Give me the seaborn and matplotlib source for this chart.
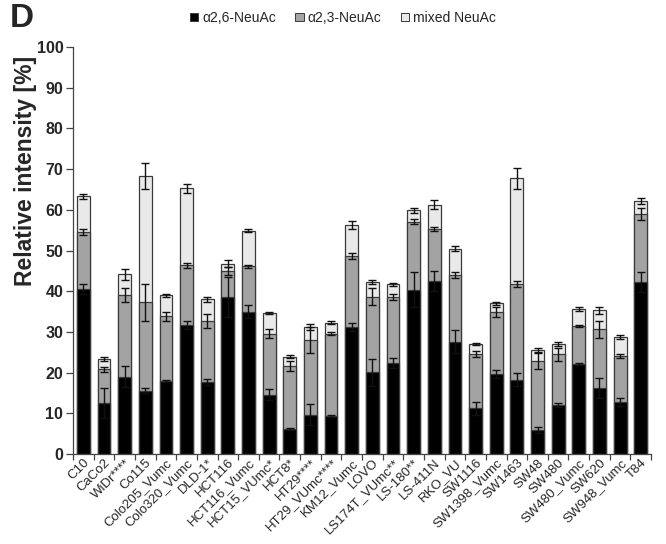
import numpy as np
import pandas as pd
import seaborn as sns
import matplotlib
matplotlib.use("Agg")
import matplotlib.pyplot as plt
from matplotlib.patches import Patch

cell_lines = ["C10", "CaCo2", "WiDr****", "Co115", "Colo205_Vumc", "Colo320_Vumc",
              "DLD-1*", "HCT116", "HCT116_Vumc", "HCT15_VUmc*", "HCT8*", "HT29****",
              "HT29_VUmc****", "KM12_Vumc", "LOVO", "LS174T_VUmc**", "LS-180**",
              "LS-411N", "RKO_VU", "SW1116", "SW1398_Vumc", "SW1463", "SW48",
              "SW480", "SW480_Vumc", "SW620", "SW948_Vumc", "T84"]

# segment heights (relative intensity, %)
a26 = [40.5, 12.5, 19.0, 15.6, 17.9, 31.6, 17.7, 38.5, 35.0, 14.6, 6.2, 9.7,
       9.3, 31.2, 20.1, 22.4, 40.3, 42.5, 27.6, 11.2, 19.7, 18.3, 5.9, 12.0,
       22.1, 16.3, 12.8, 42.3]
a23 = [14.1, 8.3, 20.0, 21.7, 15.9, 14.8, 14.9, 6.5, 11.1, 15.0, 15.4, 18.2,
       20.3, 17.4, 18.6, 16.1, 16.8, 12.7, 16.4, 13.3, 15.1, 23.5, 16.9, 12.5,
       9.3, 14.4, 11.2, 16.7]
mixed = [8.7, 2.5, 5.2, 31.1, 5.2, 18.9, 5.4, 1.8, 8.8, 5.1, 2.3, 3.3,
         2.7, 7.7, 3.6, 3.2, 2.8, 6.1, 6.4, 2.5, 2.2, 25.9, 2.7, 2.6,
         4.2, 4.6, 4.7, 3.2]

# standard deviations of each segment
a26_err = [1.3, 3.6, 2.6, 0.7, 0.3, 1.0, 0.8, 4.9, 1.6, 1.3, 0.3, 2.6,
           0.3, 0.9, 3.3, 1.2, 4.3, 2.4, 2.9, 1.5, 0.9, 1.5, 0.8, 0.5,
           0.3, 2.5, 0.9, 2.4]
a23_err = [0.8, 0.6, 1.7, 4.5, 1.1, 0.65, 1.7, 1.0, 0.3, 1.1, 1.15, 3.2,
           0.4, 0.8, 2.0, 0.7, 0.6, 0.5, 0.8, 0.7, 1.2, 0.65, 1.9, 1.6,
           0.2, 2.1, 0.5, 1.5]
mixed_err = [0.7, 0.5, 1.35, 3.2, 0.3, 1.1, 0.6, 0.9, 0.3, 0.3, 0.4, 0.7,
             0.3, 1.0, 0.5, 0.3, 0.65, 1.2, 0.6, 0.3, 0.3, 2.5, 0.45, 0.5,
             0.4, 0.9, 0.45, 0.65]

legend_labels = ["α2,6-NeuAc", "α2,3-NeuAc", "mixed NeuAc"]
colors = ["#000000", "#a3a3a3", "#e9e9e9"]
y_ticks = [0, 10, 20, 30, 40, 50, 60, 70, 80, 90, 100]

sns.set_style("ticks")
plt.rcParams["font.family"] = ["Liberation Sans", "DejaVu Sans"]

df = pd.DataFrame({"line": cell_lines, "a26": a26, "a23": a23, "mixed": mixed})
df["top26"] = df["a26"]
df["top23"] = df["a26"] + df["a23"]
df["top_mixed"] = df["top23"] + df["mixed"]

fig = plt.figure(figsize=(6.66, 5.44), dpi=100)
ax = fig.add_axes([0.1096, 0.1654, 0.868, 0.7482])

edge = "#3a3a3a"
bar_w = 0.62
# stacked bars: draw cumulative tops from tallest to shortest
for col, c in zip(["top_mixed", "top23", "top26"], colors[::-1]):
    sns.barplot(data=df, x="line", y=col, color=c, width=bar_w, errorbar=None,
                edgecolor=edge, linewidth=0.9, ax=ax, saturation=1)

x = np.arange(len(cell_lines))
for tops, errs in [(df["top26"], a26_err), (df["top23"], a23_err),
                   (df["top_mixed"], mixed_err)]:
    ax.errorbar(x, tops, yerr=errs, fmt="none", ecolor="#111111",
                elinewidth=1.0, capsize=3, capthick=1.0, zorder=5)

ax.set_xlim(-0.5, len(cell_lines) - 0.5)
ax.set_ylim(0, 100)
ax.set_yticks(y_ticks)
ax.set_yticklabels([str(t) for t in y_ticks], fontsize=11.5, fontweight="bold")
ax.set_ylabel("Relative intensity [%]", fontsize=16.5, fontweight="bold")
ax.yaxis.set_label_coords(-0.063, 0.695)
ax.set_xlabel("")

# category labels at bar centres, separator ticks between bars
ax.set_xticks(x)
ax.set_xticklabels(cell_lines, rotation=45, ha="right", rotation_mode="anchor",
                   fontsize=9.5)
ax.tick_params(axis="x", which="major", length=0, pad=2)
ax.set_xticks(np.arange(-0.5, len(cell_lines) + 0.5, 1.0), minor=True)
ax.tick_params(axis="x", which="minor", length=4, width=0.9, color="#444444",
               direction="out")
ax.tick_params(axis="y", length=5, width=0.9, color="#444444", pad=2)

for s in ["top", "right"]:
    ax.spines[s].set_visible(False)
for s in ["left", "bottom"]:
    ax.spines[s].set_color("#444444")
    ax.spines[s].set_linewidth(0.9)

handles = [Patch(facecolor=c, edgecolor=edge, linewidth=0.7) for c in colors]
fig.legend(handles, legend_labels, loc="center", bbox_to_anchor=(0.515, 0.967),
           ncol=3, frameon=False, fontsize=10, handlelength=0.6, handleheight=0.6,
           handletextpad=0.3, columnspacing=1.4)

fig.text(0.015, 0.995, "D", fontsize=24, fontweight="bold", ha="left", va="top")

fig.savefig("out.png", dpi=100)
